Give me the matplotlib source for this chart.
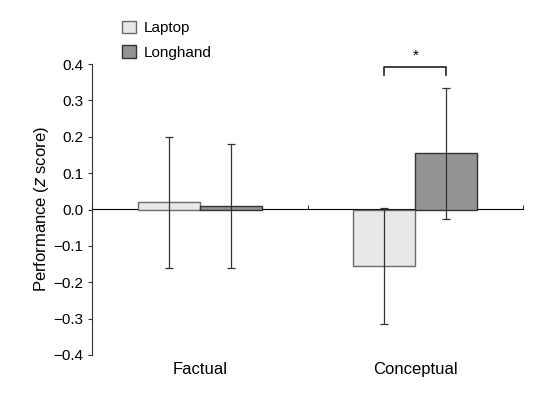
import matplotlib
matplotlib.use("Agg")
import matplotlib.pyplot as plt
import numpy as np

plt.rcParams['font.family'] = ["Liberation Sans", 'DejaVu Sans']

categories = ["Factual", "Conceptual"]
series = ["Laptop", "Longhand"]
laptop_vals = [0.020, -0.156]
longhand_vals = [0.009, 0.154]
laptop_err = [0.180, 0.160]
longhand_err = [0.170, 0.180]
yticks = [0.4, 0.3, 0.2, 0.1, 0.0, -0.1, -0.2, -0.3, -0.4]
sig_label = "*"

fig = plt.figure(figsize=(5.53, 3.94), dpi=100)
ax = fig.add_axes([92/553, 39/394, 431/553, 291/394])

x = np.arange(1, len(categories) + 1)
w = 0.287
fills = ["#e8e8e8", "#949496"]
edges = ["#6a6a6a", "#333333"]
for i, (vals, errs) in enumerate([(laptop_vals, laptop_err), (longhand_vals, longhand_err)]):
    pos = x + (i - 0.5) * w
    ax.bar(pos, vals, width=w, color=fills[i], edgecolor=edges[i], linewidth=1.0,
           label=series[i], zorder=2)
    ax.errorbar(pos, vals, yerr=errs, fmt="none", ecolor="#333333", elinewidth=0.9,
                capsize=3, capthick=0.9, zorder=3)

ax.set_xlim(0.5, 2.5)
ax.set_ylim(-0.4, 0.4)
ax.set_yticks(yticks)
ax.set_yticklabels([f"{t:.1f}".replace("-", "\u2212") for t in yticks])
ax.set_xticks(x)
ax.set_xticklabels(categories, fontsize=12)
ax.tick_params(axis="x", length=0, pad=5)
ax.tick_params(axis="y", labelsize=11, length=3, color="#333333", pad=3)

for s in ["top", "right", "bottom"]:
    ax.spines[s].set_visible(False)
ax.spines["left"].set_color("#333333")

# zero-line axis with group boundary ticks
sec = ax.secondary_xaxis(0.5)
sec.set_xticks([0.5, 1.5, 2.5])
sec.set_xticklabels([])
sec.tick_params(axis="x", length=3, direction="out", color="#333333")
sec.spines["bottom"].set_color("#333333")
sec.spines["bottom"].set_linewidth(1.0)
sec.spines["bottom"].set_zorder(4)

ax.set_ylabel("Performance ($\\it{z}$ score)", fontsize=12, labelpad=2)

# significance bracket
xl, xr = x[1] - 0.5 * w, x[1] + 0.5 * w
yb, yt = 0.371, 0.391
ax.plot([xl, xl, xr, xr], [yb, yt, yt, yb], color="#222222", linewidth=1.2,
        clip_on=False)
ax.text(x[1], 0.402, sig_label, ha="center", va="bottom", fontsize=11, clip_on=False)

ax.legend(loc="lower left", bbox_to_anchor=(0.045, 0.978), frameon=False, fontsize=11,
          handlelength=0.9, handleheight=0.9, handletextpad=0.5, labelspacing=0.65,
          borderaxespad=0.3)

fig.savefig("out.png", dpi=100)
